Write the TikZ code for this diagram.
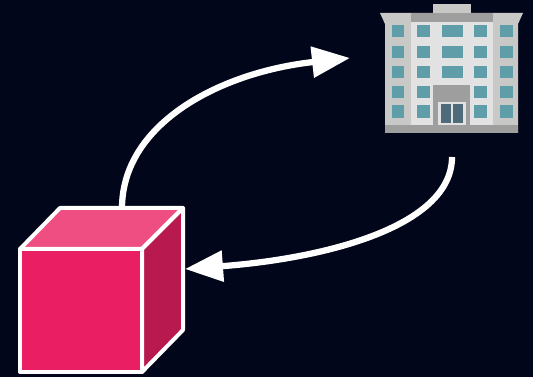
\documentclass[tikz,border=0pt]{standalone}
\usepackage{tikz}
\usetikzlibrary{arrows.meta}

\definecolor{bgdark}{HTML}{02061A}
\definecolor{cubefront}{HTML}{E91E63}
\definecolor{cubetop}{HTML}{EF4E82}
\definecolor{cubeside}{HTML}{B8194F}
\definecolor{wallside}{HTML}{C8C8C6}
\definecolor{wallmid}{HTML}{E2E2E2}
\definecolor{wallband}{HTML}{9E9E9E}
\definecolor{pane}{HTML}{5F9EA8}
\definecolor{doorpane}{HTML}{4F6A78}

\begin{document}
\begin{tikzpicture}[
    x=0.02cm, y=-0.02cm,
    face/.style={draw=white, line width=0.08cm, line join=round},
    line/.style={draw=white, line width=0.125cm, -{Triangle[length=0.76cm, width=0.6cm]}}
]

\fill [bgdark] (0,0) rectangle (533,377);
\useasboundingbox (0,0) rectangle (533,377);

% building
\fill [wallside] (433,4) rectangle (471,13);
\fill [wallside] (380,13) -- (523,13) -- (518,24) -- (518,133) -- (385,133) -- (385,24) -- cycle;
\fill [wallband] (411,13) rectangle (493,22);
\fill [wallmid] (411,22) rectangle (493,125);
\fill [wallband] (385,125) rectangle (518,133);
\foreach \xa/\xb in {392/404, 417/430, 474/487, 500/513}
    \foreach \ya/\yb in {25/37, 46/58, 66/78, 86/98, 105/118}
        \fill [pane] (\xa,\ya) rectangle (\xb,\yb);
\foreach \ya/\yb in {25/37, 46/58, 66/78}
    \fill [pane] (442,\ya) rectangle (463,\yb);
\fill [wallband] (433,85) rectangle (470,125);
\fill [wallmid] (438,102) rectangle (466,125);
\fill [doorpane] (441,104) rectangle (451,123);
\fill [doorpane] (453,104) rectangle (463,123);

% cube
\draw [face, fill=cubefront] (20,249) rectangle (142,372);
\draw [face, fill=cubetop] (20,249) -- (60,208) -- (183,208) -- (142,249) -- cycle;
\draw [face, fill=cubeside] (142,249) -- (183,208) -- (183,330) -- (142,372) -- cycle;

\coordinate (cubetopedge) at (122,206);
\coordinate (buildingin) at (350,58);
\coordinate (buildingout) at (452,157);
\coordinate (cubeedge) at (185,269);

\path [line] (cubetopedge) .. controls (124,122) and (222,72) .. (buildingin);
\path [line] (buildingout) .. controls (452,225) and (330,258) .. (cubeedge);

\end{tikzpicture}
\end{document}
